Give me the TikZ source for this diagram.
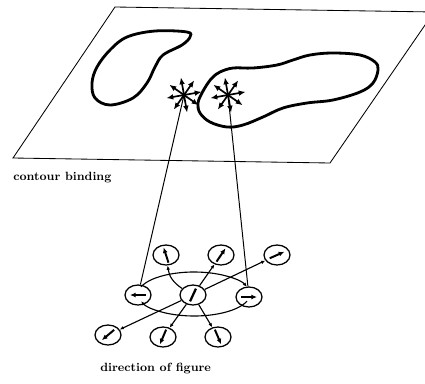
\documentclass[tikz,border=0pt]{standalone}
\usepackage{tikz}
\usetikzlibrary{arrows.meta,shapes.geometric}

\begin{document}
\begin{tikzpicture}[
  x=0.025cm, y=0.025cm,
  plane/.style={draw, line width=0.6pt},
  contour/.style={draw, line width=2pt, line join=round},
  ray/.style={-{Latex[length=5pt,width=4pt]}, line width=1.2pt},
  unit/.style={draw, ellipse, fill=white, line width=0.9pt,
               minimum width=0.65cm, minimum height=0.5cm, inner sep=0pt},
  link/.style={-{Latex[length=3pt,width=2.5pt]}, line width=0.8pt},
  binding/.style={line width=0.7pt},
  dirarrow/.style={-{Latex[length=4pt,width=3.5pt]}, line width=1.4pt},
  caption/.style={font=\fontsize{8.5}{10}\selectfont\bfseries, anchor=west, inner sep=0pt}
]
  \useasboundingbox (0,0) rectangle (425,383);

  % Plane with the two contours
  \draw[plane] (13,225) -- (330,220) -- (434,371) -- (115,376) -- cycle;
  \draw[contour] plot[smooth cycle, tension=0.6] coordinates {
    (187,351) (190,346) (182,338) (163,328) (155,316) (147,300) (133,285)
    (110,278) (95,285) (92,300) (97,316) (110,333) (127,346) (155,352)};
  \draw[contour] plot[smooth cycle, tension=0.6] coordinates {
    (213,306) (220,311) (233,315) (253,315) (277,318) (293,323) (310,328)
    (333,330) (360,328) (375,321) (378,313) (373,300) (360,291) (333,283)
    (307,280) (283,275) (263,266) (243,258) (227,256) (210,261) (200,270)
    (198,280) (202,290) (208,300)};

  % Direction stars on the contour
  \coordinate (lstar) at (184,288);
  \coordinate (rstar) at (228,288);
  \foreach \s in {lstar,rstar}
    \foreach \a in {0,45,...,315}
      \draw[ray] (\s) -- ++(\a+10:18);

  \node[caption] (bindlabel) at (13,205) {contour binding};

  % Direction-of-figure units
  \node[unit] (C)   at (193,88)  {};
  \node[unit] (L)   at (138,88)  {};
  \node[unit] (R)   at (249,86)  {};
  \node[unit] (TL)  at (166,128) {};
  \node[unit] (TM)  at (221,128) {};
  \node[unit] (TR)  at (277,128) {};
  \node[unit] (BL)  at (108,48)  {};
  \node[unit] (BML) at (163,46)  {};
  \node[unit] (BMR) at (218,46)  {};

  % Ring through the left and right units
  \coordinate (ring) at (194,89);
  \draw[link] (ring) ++(161:56 and 22) arc[start angle=161, end angle=19, x radius=56, y radius=22];
  \draw[link] (ring) ++(341:56 and 22) arc[start angle=341, end angle=199, x radius=56, y radius=22];

  % Links from the centre unit
  \draw[link] (C) to[bend left=25] (TL);
  \foreach \t in {TM,TR,BL,BML,BMR}
    \draw[link] (C) -- (\t);

  % Arrows inside the units
  \foreach \u/\a in {L/180,R/0,TL/108,TM/56,TR/24,BL/220,BML/247,BMR/293}
    \draw[dirarrow] ([shift={(\a+180:8)}]\u.center) -- ([shift={(\a:8)}]\u.center);
  \draw[line width=1.6pt] ([shift={(245:7)}]C.center) -- ([shift={(65:7)}]C.center);

  % Binding lines from the stars
  \draw[binding] (lstar) -- (L);
  \draw[binding] (rstar) -- (R);

  \node[caption] (dirlabel) at (100,14) {direction of figure};
\end{tikzpicture}
\end{document}
